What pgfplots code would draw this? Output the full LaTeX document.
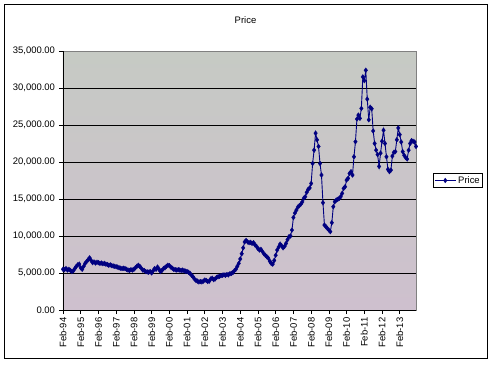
\documentclass[border=0pt]{standalone}
\usepackage{fontspec}
\setmainfont{Liberation Sans}
\usepackage{pgfplots}
\pgfplotsset{compat=1.18}
\usetikzlibrary{calc}
\definecolor{navyline}{RGB}{0,0,128}
\definecolor{bgtop}{RGB}{198,202,196}
\definecolor{bgmid}{RGB}{182,212,178}
\definecolor{bgbot}{RGB}{206,192,206}
\begin{document}
\begin{tikzpicture}[x=1bp,y=1bp,font=\fontsize{9.5}{11}\selectfont]
\begin{axis}[
  name=ax, at={(0,0)}, anchor=south west,
  scale only axis, width=353bp, height=259bp,
  xmin=0, xmax=239, ymin=0, ymax=35000,
  axis x line*=bottom, axis y line*=left,
  axis line style={black, line width=0.7bp, -},
  axis background/.style={shade, shading=axis, top color=bgtop, middle color=bgmid, bottom color=bgbot, draw=gray, line width=0.7bp},
  tick align=outside, major tick length=4bp,
  tick style={black, line width=0.7bp},
  ytick={0,5000,...,35000},
  extra y ticks={5000,10000,...,30000},
  extra y tick labels={},
  extra y tick style={grid=major, major tick length=0pt},
  grid style={black, line width=0.7bp},
  scaled y ticks=false,
  /pgf/number format/.cd, fixed, fixed zerofill, precision=2, 1000 sep={,}, assume math mode=true,
  /pgfplots/.cd,
  yticklabel style={font=\fontsize{9.5}{11}\selectfont, xshift=-0.5bp},
  xtick={0,12,...,228},
  xticklabels={Feb-94,Feb-95,Feb-96,Feb-97,Feb-98,Feb-99,Feb-00,Feb-01,Feb-02,Feb-03,Feb-04,Feb-05,Feb-06,Feb-07,Feb-08,Feb-09,Feb-10,Feb-11,Feb-12,Feb-13},
  xticklabel style={rotate=90, anchor=east, font=\fontsize{9.5}{11}\selectfont},
  clip=false,
  legend style={at={(1.048,0.5)}, anchor=west, draw=black, line width=0.7bp, fill=white, inner xsep=1bp, inner ysep=0.5bp, font=\fontsize{9.5}{11}\selectfont, legend cell align=left},
  legend image code/.code={\draw[mark repeat=2,mark phase=2,#1] plot coordinates {(0bp,0bp) (10.5bp,0bp) (21bp,0bp)};},
]
\addplot[navyline, line width=0.9bp, mark=diamond*, mark size=2.4bp, mark options={fill=navyline, draw=navyline, line width=0.3bp}] coordinates {
(0,5500) (1,5450) (2,5600) (3,5400) (4,5500) (5,5350) (6,5200) (7,5300) (8,5600) (9,5900) (10,6100) (11,6200)
(12,5700) (13,5500) (14,5900) (15,6300) (16,6550) (17,6800) (18,7050) (19,6700) (20,6400) (21,6500) (22,6350) (23,6450)
(24,6400) (25,6300) (26,6350) (27,6250) (28,6300) (29,6200) (30,6150) (31,6050) (32,6100) (33,6000) (34,5950) (35,5900)
(36,5850) (37,5800) (38,5700) (39,5650) (40,5600) (41,5650) (42,5600) (43,5500) (44,5400) (45,5350) (46,5450) (47,5400)
(48,5500) (49,5700) (50,5900) (51,6050) (52,5900) (53,5650) (54,5400) (55,5350) (56,5200) (57,5150) (58,5100) (59,5200)
(60,5000) (61,5300) (62,5600) (63,5500) (64,5800) (65,5500) (66,5200) (67,5350) (68,5600) (69,5700) (70,5900) (71,6050)
(72,6000) (73,5800) (74,5650) (75,5500) (76,5450) (77,5400) (78,5450) (79,5400) (80,5350) (81,5400) (82,5300) (83,5250)
(84,5200) (85,5100) (86,4950) (87,4700) (88,4500) (89,4200) (90,4000) (91,3900) (92,3800) (93,3850) (94,3800) (95,3900)
(96,4050) (97,4000) (98,3850) (99,3900) (100,4200) (101,4300) (102,4100) (103,4200) (104,4400) (105,4500) (106,4550) (107,4650)
(108,4700) (109,4750) (110,4700) (111,4800) (112,4750) (113,4900) (114,4950) (115,5050) (116,5300) (117,5500) (118,5900) (119,6300)
(120,6900) (121,7600) (122,8400) (123,9200) (124,9400) (125,9200) (126,9100) (127,9150) (128,9000) (129,9100) (130,8800) (131,8600)
(132,8300) (133,8100) (134,8200) (135,7900) (136,7600) (137,7400) (138,7200) (139,7000) (140,6600) (141,6300) (142,6200) (143,6700)
(144,7400) (145,8100) (146,8500) (147,8900) (148,8700) (149,8400) (150,8600) (151,9000) (152,9500) (153,9900) (154,10000) (155,10800)
(156,12500) (157,13100) (158,13500) (159,13900) (160,14100) (161,14300) (162,14600) (163,15100) (164,15300) (165,15900) (166,16300) (167,16500)
(168,17100) (169,19800) (170,21600) (171,23900) (172,23000) (173,22100) (174,19800) (175,18240) (176,14500) (177,11480) (178,11260) (179,11030)
(180,10800) (181,10580) (182,11800) (183,13960) (184,14640) (185,14860) (186,14950) (187,15090) (188,15310) (189,15760) (190,16440) (191,16660)
(192,17560) (193,17790) (194,18460) (195,18690) (196,18240) (197,20710) (198,22740) (199,25800) (200,26340) (201,25900) (202,27240) (203,31500)
(204,31000) (205,32400) (206,28500) (207,25700) (208,27400) (209,27200) (210,24200) (211,22500) (212,21600) (213,21000) (214,19400) (215,21200)
(216,22800) (217,24300) (218,22500) (219,20700) (220,19000) (221,18700) (222,18900) (223,20800) (224,21300) (225,21400) (226,23000) (227,24600)
(228,23700) (229,22700) (230,21400) (231,20900) (232,20600) (233,20400) (234,21600) (235,22500) (236,22900) (237,22800) (238,22700) (239,22100)
};
\addlegendentry{Price}
\end{axis}
\draw[black, line width=0.9bp] ($(ax.south west)+(-59,-48)$) rectangle ++(483,354);
\node at ($(ax.south west)+(182.5,290)$) {Price};
\pgfresetboundingbox
\path[use as bounding box] ($(ax.south west)+(-63,-54)$) rectangle ++(496,364);
\end{tikzpicture}
\end{document}
